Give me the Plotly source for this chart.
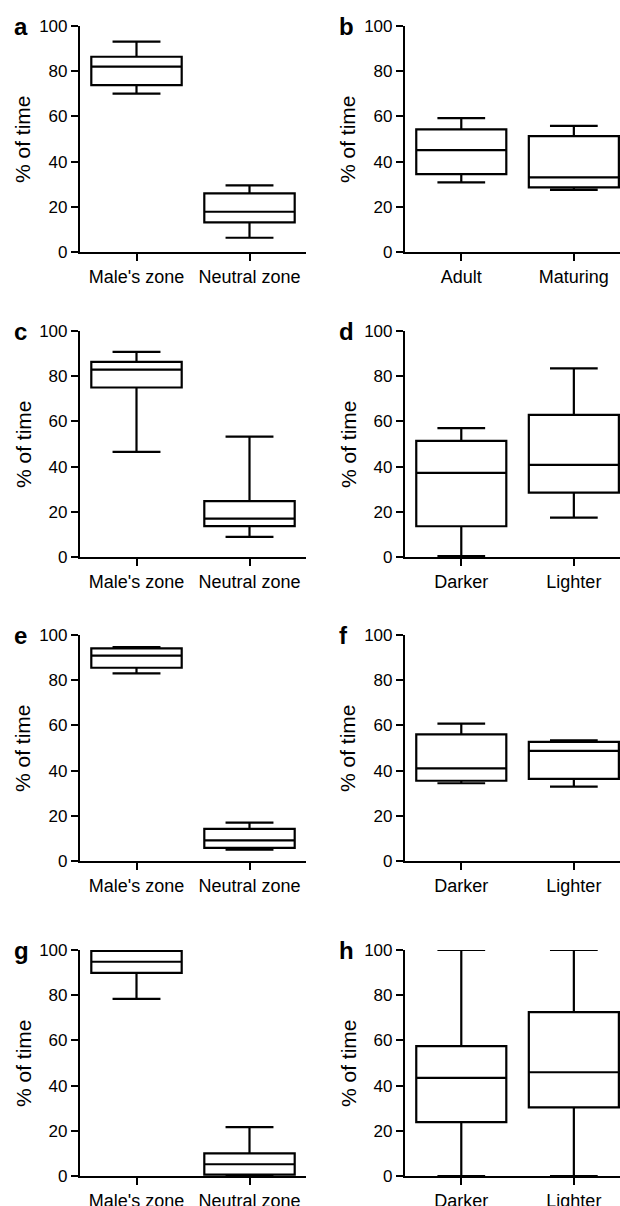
import plotly.graph_objects as go

# ---------------- data (min, Q1, median, Q3, max) ----------------
zone_cats = ["Male's zone", "Neutral zone"]
age_cats = ["Adult", "Maturing"]
col_cats = ["Darker", "Lighter"]

a_min = [70.1, 6.3];  a_q1 = [73.8, 13.1]; a_med = [82.0, 17.8]; a_q3 = [86.4, 25.9]; a_max = [93.1, 29.5]
b_min = [30.8, 27.5]; b_q1 = [34.5, 28.6]; b_med = [45.1, 33.0]; b_q3 = [54.3, 51.3]; b_max = [59.2, 55.8]
c_min = [46.5, 8.9];  c_q1 = [75.0, 13.7]; c_med = [82.9, 17.0]; c_q3 = [86.3, 24.7]; c_max = [90.8, 53.3]
d_min = [0.4, 17.4];  d_q1 = [13.6, 28.5]; d_med = [37.2, 40.8]; d_q3 = [51.4, 62.9]; d_max = [57.0, 83.5]
e_min = [83.0, 5.0];  e_q1 = [85.5, 5.8];  e_med = [90.9, 9.1];  e_q3 = [94.1, 14.2]; e_max = [94.7, 17.0]
f_min = [34.4, 32.9]; f_q1 = [35.5, 36.3]; f_med = [41.0, 48.7]; f_q3 = [56.0, 52.7]; f_max = [60.8, 53.4]
g_min = [78.4, 0.3];  g_q1 = [89.9, 0.6];  g_med = [94.8, 5.2];  g_q3 = [99.6, 10.0]; g_max = [100.0, 21.6]
h_min = [0.0, 0.0];   h_q1 = [23.8, 30.4]; h_med = [43.4, 45.9]; h_q3 = [57.5, 72.5]; h_max = [100.0, 100.0]

y_ticks = [0, 20, 40, 60, 80, 100]
y_title = "% of time"

panels = [
    ("a", zone_cats, a_min, a_q1, a_med, a_q3, a_max),
    ("b", age_cats, b_min, b_q1, b_med, b_q3, b_max),
    ("c", zone_cats, c_min, c_q1, c_med, c_q3, c_max),
    ("d", col_cats, d_min, d_q1, d_med, d_q3, d_max),
    ("e", zone_cats, e_min, e_q1, e_med, e_q3, e_max),
    ("f", col_cats, f_min, f_q1, f_med, f_q3, f_max),
    ("g", zone_cats, g_min, g_q1, g_med, g_q3, g_max),
    ("h", col_cats, h_min, h_q1, h_med, h_q3, h_max),
]

# ---------------- layout geometry (page pixels) ----------------
W, H = 620, 1206
col_x = [(80, 306, [-0.5, 1.5]), (405, 620, [-0.5, 1.41])]
row_y = [(26, 252), (331, 557), (635, 861), (950, 1176)]
FONT = "Liberation Sans, Arial, sans-serif"


def px(x):
    return x / W


def py(y):
    return 1 - y / H


fig = go.Figure()
layout = dict(width=W, height=H, autosize=False,
              margin=dict(l=0, r=0, t=0, b=0, pad=0, autoexpand=False),
              paper_bgcolor="white", plot_bgcolor="white", showlegend=False,
              annotations=[])

for i, (letter, cats, mn, q1, md, q3, mx) in enumerate(panels):
    r, c = divmod(i, 2)
    x0, x1, xr = col_x[c]
    top, bot = row_y[r]
    n = i + 1
    xa = "x" if n == 1 else f"x{n}"
    ya = "y" if n == 1 else f"y{n}"
    fig.add_trace(go.Box(
        x=cats, q1=q1, median=md, q3=q3, lowerfence=mn, upperfence=mx,
        xaxis=xa, yaxis=ya, width=0.8, whiskerwidth=0.53,
        line=dict(color="black", width=2.2), fillcolor="white",
        boxpoints=False, hoverinfo="skip"))
    xkey = "xaxis" if n == 1 else f"xaxis{n}"
    ykey = "yaxis" if n == 1 else f"yaxis{n}"
    layout[xkey] = dict(
        domain=[px(x0), min(px(x1), 1.0)], anchor=ya, type="category", range=xr,
        showline=True, linecolor="black", linewidth=2.2, ticks="outside",
        ticklen=7, tickwidth=2.2, tickcolor="black", showgrid=False,
        zeroline=False, fixedrange=True, automargin=False,
        tickfont=dict(family=FONT, size=18, color="black"))
    layout[ykey] = dict(
        domain=[py(bot), py(top)], anchor=xa, range=[0, 100],
        tickvals=y_ticks, showline=True, linecolor="black", linewidth=2.2,
        ticks="outside", ticklen=7, tickwidth=2.2, tickcolor="black",
        showgrid=False, zeroline=False, fixedrange=True, automargin=False,
        tickfont=dict(family=FONT, size=17, color="black"))
    # y-axis title
    layout["annotations"].append(dict(
        text=y_title, textangle=-90, xref="paper", yref="paper",
        x=px(x0 - 57), y=py((top + bot) / 2), xanchor="center",
        yanchor="middle", showarrow=False,
        font=dict(family=FONT, size=21, color="black")))
    # panel letter
    layout["annotations"].append(dict(
        text=f"<b>{letter}</b>", xref="paper", yref="paper",
        x=px(x0 - 68), y=py(top), xanchor="left",
        yanchor="middle", showarrow=False,
        font=dict(family=FONT, size=24, color="black")))

fig.update_layout(**layout)
fig.write_html("out.html", config={"displayModeBar": False, "responsive": False},
               post_script="document.body.style.margin='0';"
                           "document.documentElement.style.overflow='hidden';")
